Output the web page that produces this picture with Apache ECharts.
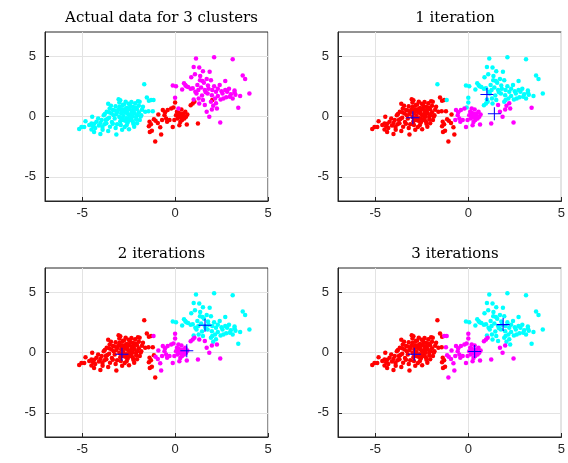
<!DOCTYPE html>
<html>
<head>
<meta charset="utf-8">
<script src="https://cdn.jsdelivr.net/npm/echarts@6/dist/echarts.min.js"></script>
<style>
  html, body { margin: 0; padding: 0; background: #fff; }
  #chart { width: 568px; height: 463px; }
</style>
</head>
<body>
<div id="chart"></div>
<script>
const cyanPts = [
  [-5.16,-1.03],[-5.04,-0.86],[-4.89,-0.86],[-4.82,-0.39],[-4.62,-0.7],[-4.5,-0.58],[-4.41,-0.8],[-4.5,-1.08],
  [-4.36,-1.28],[-4.46,-0.03],[-4.3,-0.95],[-4.23,-0.44],[-4.14,-0.17],[-4.02,-0.53],[-4.02,-1.44],[-3.91,-0.86],
  [-3.84,0.11],[-3.95,-0.3],[-3.73,-0.3],[-3.8,-0.65],[-3.68,0.4],[-3.6,1.05],[-3.55,-0.1],[-3.52,0.67],
  [-3.5,-0.85],[-3.43,0.25],[-3.4,-0.45],[-3.34,0.53],[-3.3,0.1],[-3.25,-0.17],[-3.2,0.85],[-3.16,-1.5],
  [-3.12,-0.64],[-3.1,0.4],[-3.04,1.42],[-3.0,-0.05],[-2.98,0.8],[-2.95,-0.4],[-2.9,0.25],[-2.85,0.6],
  [-2.8,-0.3],[-2.78,0.05],[-2.75,1.0],[-2.71,-0.86],[-2.7,0.35],[-2.66,1.22],[-2.62,-0.15],[-2.6,0.7],
  [-2.55,-0.5],[-2.54,0.53],[-2.5,0.15],[-2.48,-1.05],[-2.45,0.11],[-2.42,0.9],[-2.4,-0.3],[-2.36,-0.17],
  [-2.33,0.45],[-2.3,0.0],[-2.27,0.8],[-2.25,-0.6],[-2.2,0.3],[-2.18,0.25],[-2.15,1.1],[-2.1,-0.05],
  [-2.09,-0.25],[-2.05,0.6],[-2.0,1.27],[-1.95,0.35],[-1.91,1.22],[-1.85,0.0],[-1.82,0.11],[-1.78,0.55],
  [-1.73,0.8],[-1.66,2.68],[-1.61,0.39],[-1.52,1.58],[-1.43,0.44],[-1.41,1.3],[-1.29,1.36],[-1.2,0.44],
  [-1.16,1.36],[-3.65,-0.2],[-3.35,-0.6],[-3.15,0.2],[-3.05,0.6],[-2.92,-0.7],[-2.88,0.45],[-2.82,0.95],
  [-2.68,-0.35],[-2.58,0.25],[-2.52,-0.2],[-2.44,0.65],[-2.38,0.2],[-2.28,-0.4],[-2.22,0.55],[-2.12,0.75],
  [-2.02,0.1],[-3.78,0.2],[-3.45,0.9],[-3.25,0.5],[-4.1,-0.75],[-4.35,-0.6],[-3.9,-1.1],[-3.6,-1.2],
  [-2.6,-0.7],[-2.35,1.2],[-1.9,-0.3],[-2.05,-0.55],[-3.0,1.15],[-2.7,0.6],[-2.9,-0.15],
  [-3.7,-0.55],[-3.2,-0.95],[-2.85,-1.1],[-3.55,0.35],[-2.95,1.35],[-2.5,1.05],[-2.2,-0.85],[-1.95,0.9]
];
const redPts = [
  [-1.07,-2.07],[-0.75,-1.5],[-1.36,-1.28],[-1.25,-1.19],[-1.41,-0.8],[-1.3,-0.64],[-1.375,-0.44],[-1.05,-0.36],
  [-0.93,-0.53],[-1.14,-0.22],[-0.9,0.17],[-0.7,-0.3],[-0.66,0.53],[-0.57,0.11],[-0.54,0.36],[-0.48,-0.17],
  [-0.43,-0.44],[-0.4,0.53],[-0.3,-0.3],[-0.21,0.67],[-0.125,-0.86],[-0.09,0.75],[-0.04,-0.3],[0.0,1.17],
  [0.05,0.11],[0.14,-0.17],[0.2,0.3],[0.23,0.03],[0.23,-0.72],[0.32,-0.08],[0.34,0.58],[0.375,-0.3],
  [0.41,0.11],[0.45,0.25],[0.5,-0.17],[0.59,-0.03],[0.63,-0.67],[0.66,0.17],[0.84,0.94],[0.95,1.08],
  [1.04,1.22],[1.23,-0.58],[2.0,1.36],[0.28,-0.45],[0.1,0.4],[-0.8,-0.9],[0.55,0.4],[0.3,0.2]
];
const magentaPts = [
  [1.125,4.8],[2.1,4.9],[3.1,4.75],[1.0,4.1],[1.3,4.05],[1.5,3.75],[1.07,3.5],[1.86,3.7],
  [0.87,3.25],[1.34,3.0],[1.48,2.95],[1.93,3.0],[2.7,2.95],[3.64,3.4],[3.77,3.1],[2.4,2.6],
  [1.77,2.57],[0.48,2.76],[0.6,2.5],[0.38,2.24],[-0.125,2.57],[0.05,2.5],[0.84,2.3],[1.09,2.05],
  [1.6,2.2],[2.0,2.2],[2.2,2.05],[2.5,2.1],[2.7,2.2],[2.95,1.63],[3.2,2.0],[4.0,1.9],
  [3.5,1.7],[1.98,1.77],[2.3,1.7],[2.6,1.5],[1.27,1.5],[0.0,1.55],[1.5,1.36],[1.93,1.22],
  [1.3,1.08],[2.25,0.66],[1.98,0.58],[3.4,0.72],[1.7,0.39],[1.84,-0.03],[2.43,-0.5],[0.18,0.66],
  [0.55,2.6],[0.7,2.45],[0.95,2.35],[1.2,2.6],[1.4,2.4],[1.55,2.8],[1.7,3.1],[1.8,2.3],
  [2.1,2.5],[2.3,2.3],[2.55,1.9],[2.8,2.05],[3.0,1.85],[3.25,1.8],[3.1,1.5],[2.75,1.6],
  [2.15,1.5],[1.75,1.9],[1.45,1.75],[1.15,1.9],[2.05,0.9],[1.6,0.95],[2.2,1.1],[1.0,1.4],
  [3.2,2.15],[2.9,2.3],[1.35,3.35],[1.65,2.0],[2.45,1.4],[1.25,2.2]
];

const titles = ["Actual data for 3 clusters", "1 iteration", "2 iterations", "3 iterations"];
// centroid crosses per iteration panel, in order red, cyan, magenta
const centroids = [
  [[-2.98,-0.11],[1.0,1.83],[1.4,0.22]],
  [[-2.86,-0.14],[1.61,2.25],[0.63,0.14]],
  [[-2.9,-0.14],[1.87,2.31],[0.34,0.08]]
];
const tickVals = [-5, 0, 5];

const RED = "#ff0000", CYAN = "#00ffff", MAGENTA = "#ff00ff";
const grids = [
  { left: 45, top: 32, width: 223, height: 169 },
  { left: 338, top: 32, width: 224, height: 169 },
  { left: 45, top: 268, width: 223, height: 169 },
  { left: 338, top: 268, width: 224, height: 169 }
];

const allPts = cyanPts.concat(redPts, magentaPts);

// colour each point by the nearest plotted centroid
function nearestGroups(cents) {
  const groups = cents.map(() => []);
  allPts.forEach(p => {
    let best = 0, bd = Infinity;
    cents.forEach((c, k) => {
      const d = (p[0]-c[0])*(p[0]-c[0]) + (p[1]-c[1])*(p[1]-c[1]);
      if (d < bd) { bd = d; best = k; }
    });
    groups[best].push(p);
  });
  return groups;
}

function axis(i, isX) {
  return {
    gridIndex: i,
    type: "value",
    min: -7,
    max: isX ? 5 : 7,
    axisLine: { show: true, onZero: false, lineStyle: { color: "#262626", width: 1 } },
    axisTick: { show: true, inside: true, length: 4, customValues: tickVals, lineStyle: { color: "#262626" } },
    axisLabel: {
      customValues: tickVals, color: "#262626", fontSize: 13,
      fontFamily: "Liberation Sans", margin: isX ? 6 : 9
    },
    splitLine: { show: true, lineStyle: { color: "#e3e3e3", width: 1 } }
  };
}

const xAxes = [], yAxes = [], series = [], titleList = [];
const crossPath = "path://M-0.08,-1H0.08V-0.08H1V0.08H0.08V1H-0.08V0.08H-1V-0.08H-0.08Z";

for (let i = 0; i < 4; i++) {
  xAxes.push(axis(i, true));
  yAxes.push(axis(i, false));
  const g = grids[i];
  titleList.push({
    text: titles[i],
    left: g.left + g.width / 2,
    top: g.top - 26,
    textAlign: "center",
    textStyle: { fontFamily: "DejaVu Serif", fontWeight: "normal", fontSize: 15, color: "#000" }
  });

  let groups, colors;
  if (i === 0) {
    groups = [cyanPts, redPts, magentaPts];
    colors = [CYAN, RED, MAGENTA];
  } else {
    groups = nearestGroups(centroids[i - 1]);
    colors = [RED, CYAN, MAGENTA];
  }
  groups.forEach((pts, k) => {
    series.push({
      type: "scatter", xAxisIndex: i, yAxisIndex: i,
      data: pts, symbolSize: 4.5, silent: true,
      itemStyle: { color: colors[k], opacity: 1 }
    });
  });
  if (i > 0) {
    series.push({
      type: "scatter", xAxisIndex: i, yAxisIndex: i, z: 5,
      data: centroids[i - 1], symbol: crossPath, symbolSize: 13, silent: true,
      itemStyle: { color: "#0000ff", opacity: 1 }
    });
  }
}

const chart = echarts.init(document.getElementById("chart"));
chart.setOption({
  animation: false,
  backgroundColor: "#fff",
  title: titleList,
  grid: grids.map(g => Object.assign({ show: true, borderColor: "#262626", borderWidth: 1, backgroundColor: "#fff" }, g)),
  xAxis: xAxes,
  yAxis: yAxes,
  series: series
});
</script>
</body>
</html>
